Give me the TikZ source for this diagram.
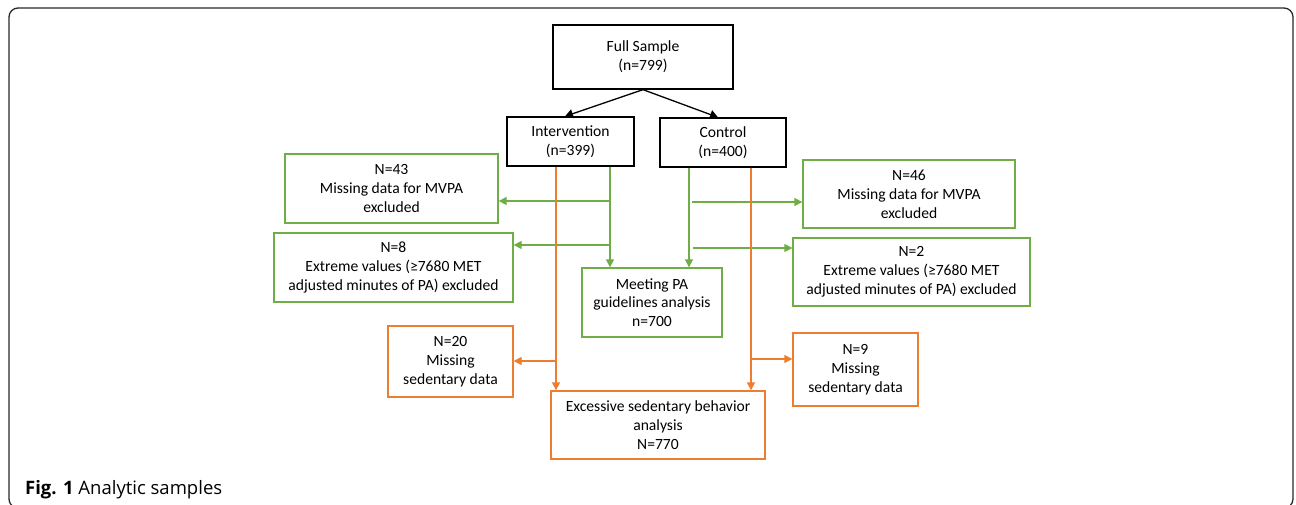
\documentclass[tikz,border=0pt]{standalone}
\usepackage{fontspec}
\setmainfont{Carlito}
\newfontfamily\capfont{Open Sans}
\usetikzlibrary{arrows.meta,calc}
\definecolor{pgreen}{RGB}{112,173,71}
\definecolor{porange}{RGB}{237,125,49}
\definecolor{frame}{RGB}{40,40,40}
\tikzset{
  box/.style={draw, line width=1.3pt, align=center, inner sep=2pt, font=\fontsize{15.6}{18.8}\selectfont},
  blackbox/.style={box, draw=black},
  greenbox/.style={box, draw=pgreen},
  orangebox/.style={box, draw=porange},
  blackarrow/.style={line width=1.3pt, draw=black, -{Triangle[length=8pt,width=9pt]}},
  greenline/.style={line width=1.3pt, draw=pgreen, -{Triangle[length=8pt,width=8pt]}},
  orangeline/.style={line width=1.3pt, draw=porange, -{Triangle[length=8pt,width=8pt]}}
}
\begin{document}
\begin{tikzpicture}[x=1pt,y=-1pt]
\useasboundingbox (0,0) rectangle (1296,505);
\draw[frame, line width=1.3pt, rounded corners=9pt] (9,8) rectangle (1293,508);

\node[blackbox, minimum width=180pt, minimum height=64pt] (full) at (643,57) {Full Sample\\(n=799)};
\node[blackbox, minimum width=127pt, minimum height=49pt] (int) at (570.5,141.5) {Intervention\\(n=399)};
\node[blackbox, minimum width=126pt, minimum height=49pt] (ctrl) at (723,142.5) {Control\\(n=400)};

\node[greenbox, minimum width=213pt, minimum height=69pt] (n43) at (391.5,188.5) {N=43\\Missing data for MVPA\\excluded};
\node[greenbox, minimum width=239pt, minimum height=69pt] (n8) at (393.5,267.5) {N=8\\Extreme values (≥7680 MET\\adjusted minutes of PA) excluded};
\node[greenbox, minimum width=212pt, minimum height=68pt] (n46) at (909,194) {N=46\\Missing data for MVPA\\excluded};
\node[greenbox, minimum width=237pt, minimum height=68pt] (n2) at (911.5,272) {N=2\\Extreme values (≥7680 MET\\adjusted minutes of PA) excluded};
\node[greenbox, minimum width=140pt, minimum height=69pt] (meet) at (652,302.5) {Meeting PA\\guidelines analysis\\n=700};

\node[orangebox, minimum width=125pt, minimum height=71pt] (n20) at (450.5,361.5) {N=20\\Missing\\sedentary data};
\node[orangebox, minimum width=125pt, minimum height=73pt] (n9) at (855.5,369.5) {N=9\\Missing\\sedentary data};
\node[orangebox, minimum width=214pt, minimum height=68pt] (exc) at (658,425) {Excessive sedentary behavior\\analysis\\N=770};

% black arrows
\coordinate (ti) at (565,117);
\coordinate (tc) at (718,118);
\draw[blackarrow] (full.south) -- (int.north -| ti);
\draw[blackarrow] (full.south) -- (ctrl.north -| tc);

% green branches, intervention
\coordinate (gi1) at (610,201);
\coordinate (gi2) at (610,245);
\draw[greenline] (int.south -| gi1) -- (meet.north -| gi1);
\draw[greenline] (gi1) -- (n43.east |- gi1);
\draw[greenline] (gi2) -- (n8.east |- gi2);

% green branches, control
\coordinate (gc0) at (689,0);
\coordinate (gc1) at (692,202);
\coordinate (gc2) at (693,248);
\draw[greenline] (ctrl.south -| gc0) -- (meet.north -| gc0);
\draw[greenline] (gc1) -- (n46.west |- gc1);
\draw[greenline] (gc2) -- (n2.west |- gc2);

% orange branches
\coordinate (oi1) at (556,361);
\coordinate (oc1) at (751,359);
\draw[orangeline] (int.south -| oi1) -- (exc.north -| oi1);
\draw[orangeline] (oi1) -- (n20.east |- oi1);
\draw[orangeline] (ctrl.south -| oc1) -- (exc.north -| oc1);
\draw[orangeline] (oc1) -- (n9.west |- oc1);

\node[anchor=base west, inner sep=0pt, font=\capfont\fontsize{18.5}{22}\selectfont] (cap) at (25,494) {\textbf{Fig. 1}\ Analytic samples};
\end{tikzpicture}
\end{document}
